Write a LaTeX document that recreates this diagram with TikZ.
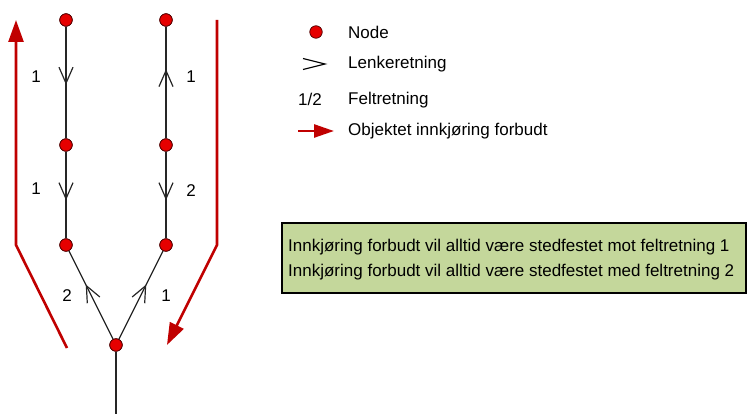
\documentclass[tikz,border=0pt]{standalone}
\usepackage{fontspec}
\setmainfont{Liberation Sans}
\usetikzlibrary{arrows.meta,decorations.markings}
\definecolor{nodered}{RGB}{230,0,0}
\definecolor{objred}{RGB}{192,0,0}
\definecolor{boxgreen}{RGB}{196,215,155}
\tikzset{
  netnode/.style={circle,draw=black!70!red,line width=0.7pt,fill=nodered,minimum size=12.5pt,inner sep=0pt},
  link/.style={line width=1.2pt,draw=black!85},
  markat/.style={postaction={decorate},decoration={markings,mark=at position #1 with {\arrow{Straight Barb[length=16pt,width=14pt,line width=1.2pt]}}}},
  objarrow/.style={draw=objred,line width=2.6pt,-{Triangle[length=22pt,width=15pt]}},
  objline/.style={draw=objred,line width=2.6pt},
  lbl/.style={font=\fontsize{17}{19}\selectfont,inner sep=0pt},
  legtxt/.style={font=\fontsize{17}{19}\selectfont,inner sep=0pt,anchor=west},
}
\begin{document}
\begin{tikzpicture}[x=1pt,y=-1pt]
\useasboundingbox (0,0) rectangle (747,414);
% nodes
\node[netnode] (a1) at (66,20) {};
\node[netnode] (a2) at (66,145) {};
\node[netnode] (a3) at (66,245) {};
\node[netnode] (b1) at (166,20) {};
\node[netnode] (b2) at (166,145) {};
\node[netnode] (b3) at (166,245) {};
\node[netnode] (c) at (116,345) {};
\coordinate (cend) at (116,414);
% links
\draw[link,markat=0.52] (a1) -- (a2);
\draw[link,markat=0.56] (a2) -- (a3);
\draw[link,markat=0.62] (b2) -- (b1);
\draw[link,markat=0.56] (b2) -- (b3);
\draw[link,markat=0.62] (c) -- (a3);
\draw[link,markat=0.62] (c) -- (b3);
\draw[link] (c) -- (cend);
% redraw nodes on top
\foreach \n in {a1,a2,a3,b1,b2,b3,c} {\node[netnode] at (\n) {};}
% lane labels
\node[lbl] (l1) at (36,77) {1};
\node[lbl] (l2) at (36,189) {1};
\node[lbl] (l3) at (191,77) {1};
\node[lbl] (l4) at (191,191) {2};
\node[lbl] (l5) at (67,296) {2};
\node[lbl] (l6) at (166,296) {1};
% red object arrows
\coordinate (r1) at (67,348);
\coordinate (r2) at (16,245);
\coordinate (r3) at (16,20);
\draw[objarrow] (r1) -- (r2) -- (r3);
\coordinate (s1) at (217,20);
\coordinate (s2) at (217,245);
\coordinate (s3) at (167,345);
\draw[objarrow] (s1) -- (s2) -- (s3);
% legend
\node[netnode] (leg1) at (316,32) {};
\node[legtxt] (legt1) at (348,32) {Node};
\draw[line width=1.1pt] (303,58.5) -- (325,64) -- (303,69.5);
\node[lbl] (leg3) at (310,99) {1/2};
\node[legtxt] (legt2) at (348,64) {Lenkeretning};
\node[legtxt] (legt3) at (348,100) {Feltretning};
\coordinate (la) at (298,131);
\coordinate (lb) at (334,131);
\draw[objline,-{Triangle[length=20pt,width=13pt]}] (la) -- (lb);
\node[legtxt] (legt4) at (348,131) {Objektet innkjøring forbudt};
% info box
\draw[fill=boxgreen,line width=2.4pt] (282,223) rectangle (745.8,293);
\node[legtxt] (bt1) at (288,247) {Innkjøring forbudt vil alltid være stedfestet mot feltretning 1};
\node[legtxt] (bt2) at (288,272) {Innkjøring forbudt vil alltid være stedfestet med feltretning 2};
\end{tikzpicture}
\end{document}
